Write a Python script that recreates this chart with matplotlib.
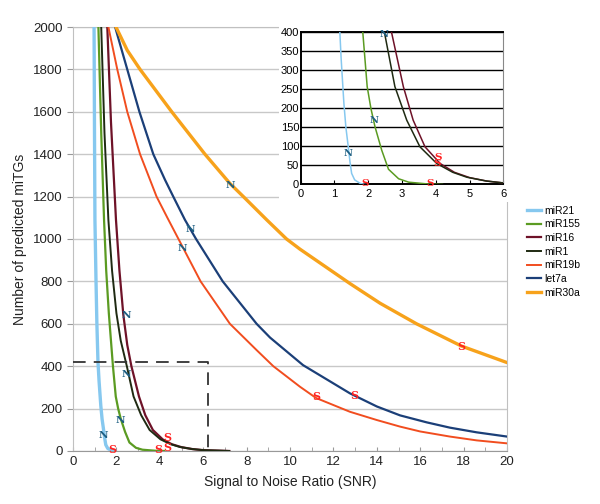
import numpy as np
import matplotlib.pyplot as plt
from matplotlib.patches import Rectangle

plt.rcParams['font.family'] = ['Liberation Sans', 'DejaVu Sans']

# curves (x = SNR, y = number of predicted miTGs)
mir21_x = [0.97, 0.99, 1.01, 1.06, 1.10, 1.15, 1.20, 1.28, 1.34, 1.41, 1.46, 1.51, 1.60, 1.76, 1.90]
mir21_y = [2000, 1500, 1090, 800, 600, 420, 330, 214, 150, 99, 60, 29, 12, 3, 0]

mir155_x = [1.17, 1.30, 1.43, 1.53, 1.65, 1.84, 1.97, 2.08, 2.20, 2.40, 2.60, 2.90, 3.20, 3.80, 4.20]
mir155_y = [2000, 1500, 1090, 850, 650, 400, 257, 200, 152, 90, 40, 15, 6, 1, 0]

mir16_x = [1.58, 1.75, 1.98, 2.14, 2.32, 2.50, 2.69, 3.04, 3.33, 3.68, 4.13, 4.55, 5.00, 5.50, 6.00, 7.20]
mir16_y = [2000, 1550, 1090, 850, 641, 500, 400, 257, 169, 99, 55, 32, 18, 9, 4, 0]

mir1_x = [1.30, 1.45, 1.63, 1.80, 2.00, 2.20, 2.48, 2.79, 3.14, 3.53, 4.03, 4.50, 4.92, 5.50, 6.00, 7.20]
mir1_y = [2000, 1500, 1090, 850, 650, 520, 400, 257, 169, 99, 55, 32, 19, 9, 4, 0]

mir19b_x = [1.63, 2.04, 2.50, 3.09, 3.85, 4.35, 4.86, 5.88, 7.23, 8.46, 9.23, 10.46, 11.2, 12.76,
            14.0, 15.07, 16.0, 17.37, 18.6, 20.0]
mir19b_y = [2000, 1800, 1600, 1400, 1200, 1100, 1000, 800, 600, 476, 400, 303, 250, 185,
            146, 115, 92, 68, 50, 36]

let7a_x = [1.94, 2.50, 3.06, 3.70, 4.24, 4.62, 5.16, 5.67, 6.90, 8.46, 9.08, 10.6, 12.76,
           14.0, 15.07, 16.3, 17.37, 18.6, 20.0]
let7a_y = [2000, 1800, 1600, 1400, 1279, 1200, 1090, 1000, 800, 600, 535, 405, 272,
           210, 168, 135, 110, 88, 68]

mir30a_x = [1.98, 2.50, 3.09, 4.55, 6.08, 7.23, 7.85, 8.93, 9.84, 10.46, 12.76, 14.15, 15.83, 17.9, 20.0]
mir30a_y = [2000, 1890, 1800, 1600, 1400, 1262, 1200, 1090, 1000, 952, 790, 697, 600, 495, 417]

names = ['miR21', 'miR155', 'miR16', 'miR1', 'miR19b', 'let7a', 'miR30a']
colors = ['#86c8ef', '#5b9b22', '#6e1228', '#1f2a12', '#f14d1f', '#1b3f78', '#f7a21b']
widths = [2.4, 1.6, 1.6, 1.4, 1.4, 1.6, 2.4]
series = [(mir21_x, mir21_y), (mir155_x, mir155_y), (mir16_x, mir16_y), (mir1_x, mir1_y),
          (mir19b_x, mir19b_y), (let7a_x, let7a_y), (mir30a_x, mir30a_y)]

# N / S markers on the curves
main_n = [(1.40, 71), (2.20, 142), (2.47, 362), (2.44, 641), (5.05, 953), (5.42, 1043), (7.23, 1252)]
main_s = [(1.83, 8), (3.93, 5), (4.32, 18), (4.32, 62), (11.2, 256), (12.96, 260), (17.9, 495)]
inset_n = [(1.39, 81), (2.18, 167), (2.47, 393)]
inset_s = [(1.90, 3), (3.83, 3), (4.03, 55), (4.08, 71)]

# dashed guide
guide_x = [0, 6.2, 6.2]
guide_y = [420, 420, 0]

fig = plt.figure(figsize=(6, 5.04), dpi=100)
ax = fig.add_axes([0.1217, 0.1052, 0.7233, 0.8412])

for (x, y), name, c, w in zip(series, names, colors, widths):
    ax.plot(x, y, color=c, lw=w, label=name, zorder=3, solid_joinstyle='round')

ax.plot(guide_x, guide_y, color='#333333', lw=1.3, ls=(0, (7, 4.5)), zorder=4)

for x, y in main_n:
    ax.text(x, y, 'N', color='#1d5e82', fontsize=7.5, fontweight='bold', family='DejaVu Serif',
            ha='center', va='center', zorder=5)
for x, y in main_s:
    ax.text(x, y, 'S', color='#ff2222', fontsize=8, fontweight='bold', family='DejaVu Serif',
            ha='center', va='center', zorder=5)

ax.set_xlim(0, 20)
ax.set_ylim(0, 2000)
ax.set_xticks(np.arange(0, 21, 2))
ax.set_xticks(np.arange(0, 21, 1), minor=True)
ax.set_yticks(np.arange(0, 2001, 200))
ax.grid(axis='y', color='#c8c8c8', lw=1)
ax.tick_params(axis='x', which='both', direction='in', length=3, color='#999999', labelsize=9.5, labelcolor='#222222')
ax.tick_params(axis='y', direction='out', length=4, color='#999999', labelsize=9.5, labelcolor='#222222')
for s in ax.spines.values():
    s.set_color('#c0c0c0')
ax.spines['bottom'].set_color('#999999')
ax.set_xlabel('Signal to Noise Ratio (SNR)', fontsize=10, color='#222222', labelpad=5)
ax.set_ylabel('Number of predicted miTGs', fontsize=10, color='#222222', labelpad=4)

fig.legend(loc='upper left', bbox_to_anchor=(0.872, 0.6), frameon=False, fontsize=7.5,
           handlelength=1.3, handletextpad=0.3, labelspacing=0.35, borderaxespad=0)

# white box behind the inset
fig.add_artist(Rectangle((0.465, 0.6), 0.39, 0.36, transform=fig.transFigure,
                         facecolor='white', edgecolor='none', zorder=1))

ins = fig.add_axes([0.501, 0.634, 0.338, 0.302])
ins.set_zorder(2)
for (x, y), c in zip(series, colors):
    ins.plot(x, y, color=c, lw=1.1, zorder=3, solid_joinstyle='round')
for x, y in inset_n:
    ins.text(x, y, 'N', color='#1d5e82', fontsize=7, fontweight='bold', family='DejaVu Serif',
             ha='center', va='center', zorder=5)
for x, y in inset_s:
    ins.text(x, y, 'S', color='#ff2222', fontsize=7.5, fontweight='bold', family='DejaVu Serif',
             ha='center', va='center', zorder=5)
ins.set_xlim(0, 6)
ins.set_ylim(0, 400)
ins.set_xticks(np.arange(0, 7, 1))
ins.set_yticks(np.arange(0, 401, 50))
ins.grid(axis='y', color='black', lw=1)
ins.tick_params(axis='x', direction='in', length=3, labelsize=8, pad=3)
ins.tick_params(axis='y', direction='in', length=0, labelsize=8, pad=1)
for s in ins.spines.values():
    s.set_color('black')
    s.set_linewidth(1.4)
ins.spines['right'].set_color('#888888')
ins.spines['right'].set_linewidth(0.8)

fig.savefig('out.png', dpi=100)
